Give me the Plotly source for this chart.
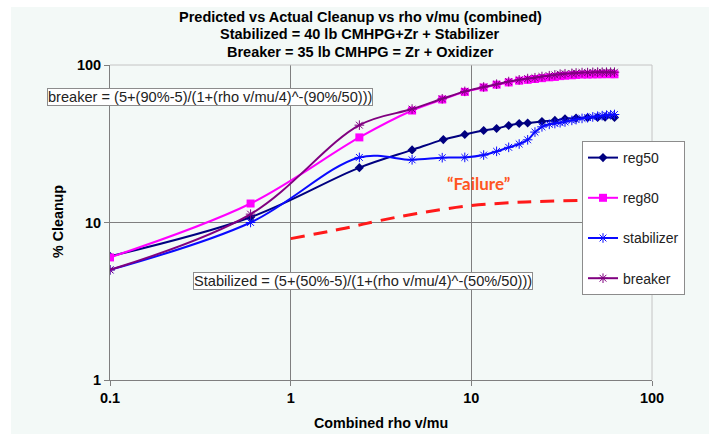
import plotly.graph_objects as go

# ---- data -------------------------------------------------------------
x_reg50 = [0.1, 0.6, 2.4, 4.7, 7.0, 9.2, 11.7, 13.8, 16.1, 18.4, 20.5, 24.6,
           29, 33, 38, 44, 50, 55, 62]
reg50 = [6.1, 10.8, 22.3, 28.9, 33.6, 36.2, 38.4, 39.5, 41.3, 42.5, 42.8, 43.8,
         44.5, 45.5, 46.0, 46.3, 46.5, 46.6, 46.5]

x_dense = [0.1, 0.6, 2.4, 4.7, 6.9, 9.2, 11.7, 13.8, 16.1, 18.4, 20.5, 22.5,
           24.6, 27, 29, 31, 33, 36, 38, 41, 44, 47, 50, 53, 56, 59, 62]
reg80 = [6.0, 13.2, 34.7, 51.4, 60.4, 67.5, 72.0, 75.0, 77.5, 79.5, 80.5, 81.5,
         82.5, 83.5, 84.0, 85.0, 85.5, 86.0, 86.5, 87.0, 87.0, 87.2, 87.3, 87.4,
         87.5, 87.5, 87.3]
stabilizer = [5.0, 10.0, 25.9, 25.0, 25.8, 25.9, 26.8, 28.3, 30.0, 31.5, 33.5,
              37.5, 40.5, 42.0, 42.5, 43.0, 43.5, 44.5, 45.0, 45.8, 46.3, 46.8,
              47.3, 47.7, 48.0, 48.3, 48.5]
breaker = [5.0, 11.3, 41.5, 52.5, 61.0, 68.0, 72.5, 75.5, 78.5, 80.5, 82.0, 83.0,
           84.5, 85.5, 86.5, 87.5, 88.0, 88.5, 89.0, 89.5, 89.5, 89.8, 90.0, 90.0,
           90.0, 90.0, 90.0]

# hand-drawn "failure" threshold
x_fail = [1, 2, 3, 5, 10, 20, 39]
y_fail = [7.9, 9.2, 10.2, 11.4, 12.8, 13.5, 13.8]

x_ticks = [0.1, 1, 10, 100]
x_tick_text = ["0.1", "1", "10", "100"]
y_ticks = [1, 10, 100]
y_tick_text = ["1", "10", "100"]

title_lines = ["Predicted vs Actual Cleanup vs rho v/mu (combined)",
               "Stabilized = 40 lb CMHPG+Zr + Stabilizer",
               "Breaker = 35 lb CMHPG = Zr + Oxidizer"]
eq_breaker = "breaker = (5+(90%-5)/(1+(rho v/mu/4)^-(90%/50)))"
eq_stabilized = "Stabilized = (5+(50%-5)/(1+(rho v/mu/4)^-(50%/50)))"

# ---- styling ------------------------------------------------------------
FONT = "Arial, Liberation Sans, sans-serif"
BG = "#f3f9f7"
GRID = "#7f7f7f"

fig = go.Figure()

series = [
    ("reg50", x_reg50, reg50, "#000080", dict(symbol="diamond", size=7)),
    ("reg80", x_dense, reg80, "#ff00ff", dict(symbol="square", size=8)),
    ("stabilizer", x_dense, stabilizer, "#0a0aff",
     dict(symbol="asterisk-open", size=8, line=dict(width=1, color="#6f80ff"))),
    ("breaker", x_dense, breaker, "#800080",
     dict(symbol="asterisk-open", size=8, line=dict(width=1, color="#b070c0"))),
]
for name, xs, ys, color, marker in series:
    fig.add_trace(go.Scatter(
        x=xs, y=ys, name=name, legendgroup=name,
        mode="lines+markers",
        line=dict(color=color, width=2, shape="spline", smoothing=1.0),
        marker=dict(color=color, **marker),
    ))

fig.add_trace(go.Scatter(
    x=x_fail, y=y_fail, mode="lines", showlegend=False, hoverinfo="skip",
    line=dict(color="#ff1a1a", width=3, dash="14px,9px", shape="spline"),
))

# plot-area geometry (pixels) used to place paper-referenced items
L, R, T, B = 110, 652, 65, 380
W, H = R - L, B - T


def px(xp):
    return (xp - L) / W


def py(yp):
    return (B - yp) / H


shapes = [
    # tinted card behind everything
    dict(type="rect", xref="paper", yref="paper", layer="below",
         x0=px(11), x1=px(709), y0=py(7), y1=py(434),
         fillcolor=BG, line=dict(width=0)),
    # light frame on top and right
    dict(type="line", xref="paper", yref="paper", layer="above",
         x0=0, x1=1, y0=1, y1=1, line=dict(color="#c4c4c4", width=1)),
    dict(type="line", xref="paper", yref="paper", layer="above",
         x0=1, x1=1, y0=0, y1=1, line=dict(color="#c4c4c4", width=1)),
    # text-box backgrounds that interrupt the grid
    dict(type="rect", xref="paper", yref="paper", layer="between",
         x0=px(433), x1=px(525), y0=py(213), y1=py(168),
         fillcolor=BG, line=dict(width=0)),
    dict(type="rect", xref="paper", yref="paper", layer="between",
         x0=px(360), x1=px(413), y0=py(226), y1=py(218),
         fillcolor=BG, line=dict(width=0)),
]

annotations = []
for line_text, yc in zip(title_lines, [17, 34.5, 52]):
    annotations.append(dict(
        text=line_text, xref="paper", yref="paper", x=px(360), y=py(yc),
        xanchor="center", yanchor="middle", showarrow=False,
        font=dict(family=FONT, size=14.5, color="#000", weight="bold")))

annotations += [
    dict(text="% Cleanup", xref="paper", yref="paper", x=px(58), y=py(222),
         textangle=-90, showarrow=False, xanchor="center", yanchor="middle",
         font=dict(family=FONT, size=14.3, color="#000", weight="bold")),
    dict(text="Combined rho v/mu", xref="paper", yref="paper", x=px(381),
         y=py(423), showarrow=False, xanchor="center", yanchor="middle",
         font=dict(family=FONT, size=14.3, color="#000", weight="bold")),
    dict(text=eq_breaker, xref="paper", yref="paper", x=px(209.5), y=py(96.5),
         showarrow=False, xanchor="center", yanchor="middle",
         bgcolor="#ffffff", bordercolor="#8c8c8c", borderwidth=1, borderpad=0,
         font=dict(family=FONT, size=14.6, color="#222")),
    dict(text=eq_stabilized, xref="paper", yref="paper", x=px(362.5), y=py(281),
         showarrow=False, xanchor="center", yanchor="middle",
         bgcolor="#ffffff", bordercolor="#8c8c8c", borderwidth=1, borderpad=0,
         font=dict(family=FONT, size=14.6, color="#222")),
    dict(text="\u201cFailure\u201d", xref="paper", yref="paper", x=px(478),
         y=py(183), showarrow=False, xanchor="center", yanchor="middle",
         font=dict(family="Lato, Open Sans, sans-serif", size=17,
                   color="#ff5522", weight="bold")),
]

axis_common = dict(
    type="log", showgrid=True, gridcolor=GRID, gridwidth=1,
    showline=True, linecolor=GRID, linewidth=1,
    ticks="outside", ticklen=5, tickcolor=GRID, tickwidth=1,
    zeroline=False, minor=dict(showgrid=False, ticks=""),
    tickfont=dict(family=FONT, size=14.5, color="#000", weight="bold"),
)

fig.update_layout(
    width=720, height=434,
    margin=dict(l=L, r=720 - R, t=T, b=434 - B),
    paper_bgcolor="#ffffff", plot_bgcolor=BG,
    xaxis=dict(range=[-1, 2], tickvals=x_ticks, ticktext=x_tick_text,
               **axis_common),
    yaxis=dict(range=[0, 2], tickvals=y_ticks, ticktext=y_tick_text,
               **axis_common),
    legend=dict(x=px(582), y=py(141), xanchor="left", yanchor="top",
                bgcolor="#ffffff", bordercolor="#8c8c8c", borderwidth=1,
                font=dict(family=FONT, size=14, color="#222"),
                tracegroupgap=19, itemwidth=30),
    shapes=shapes,
    annotations=annotations,
    showlegend=True,
)

fig.write_html("out.html")
